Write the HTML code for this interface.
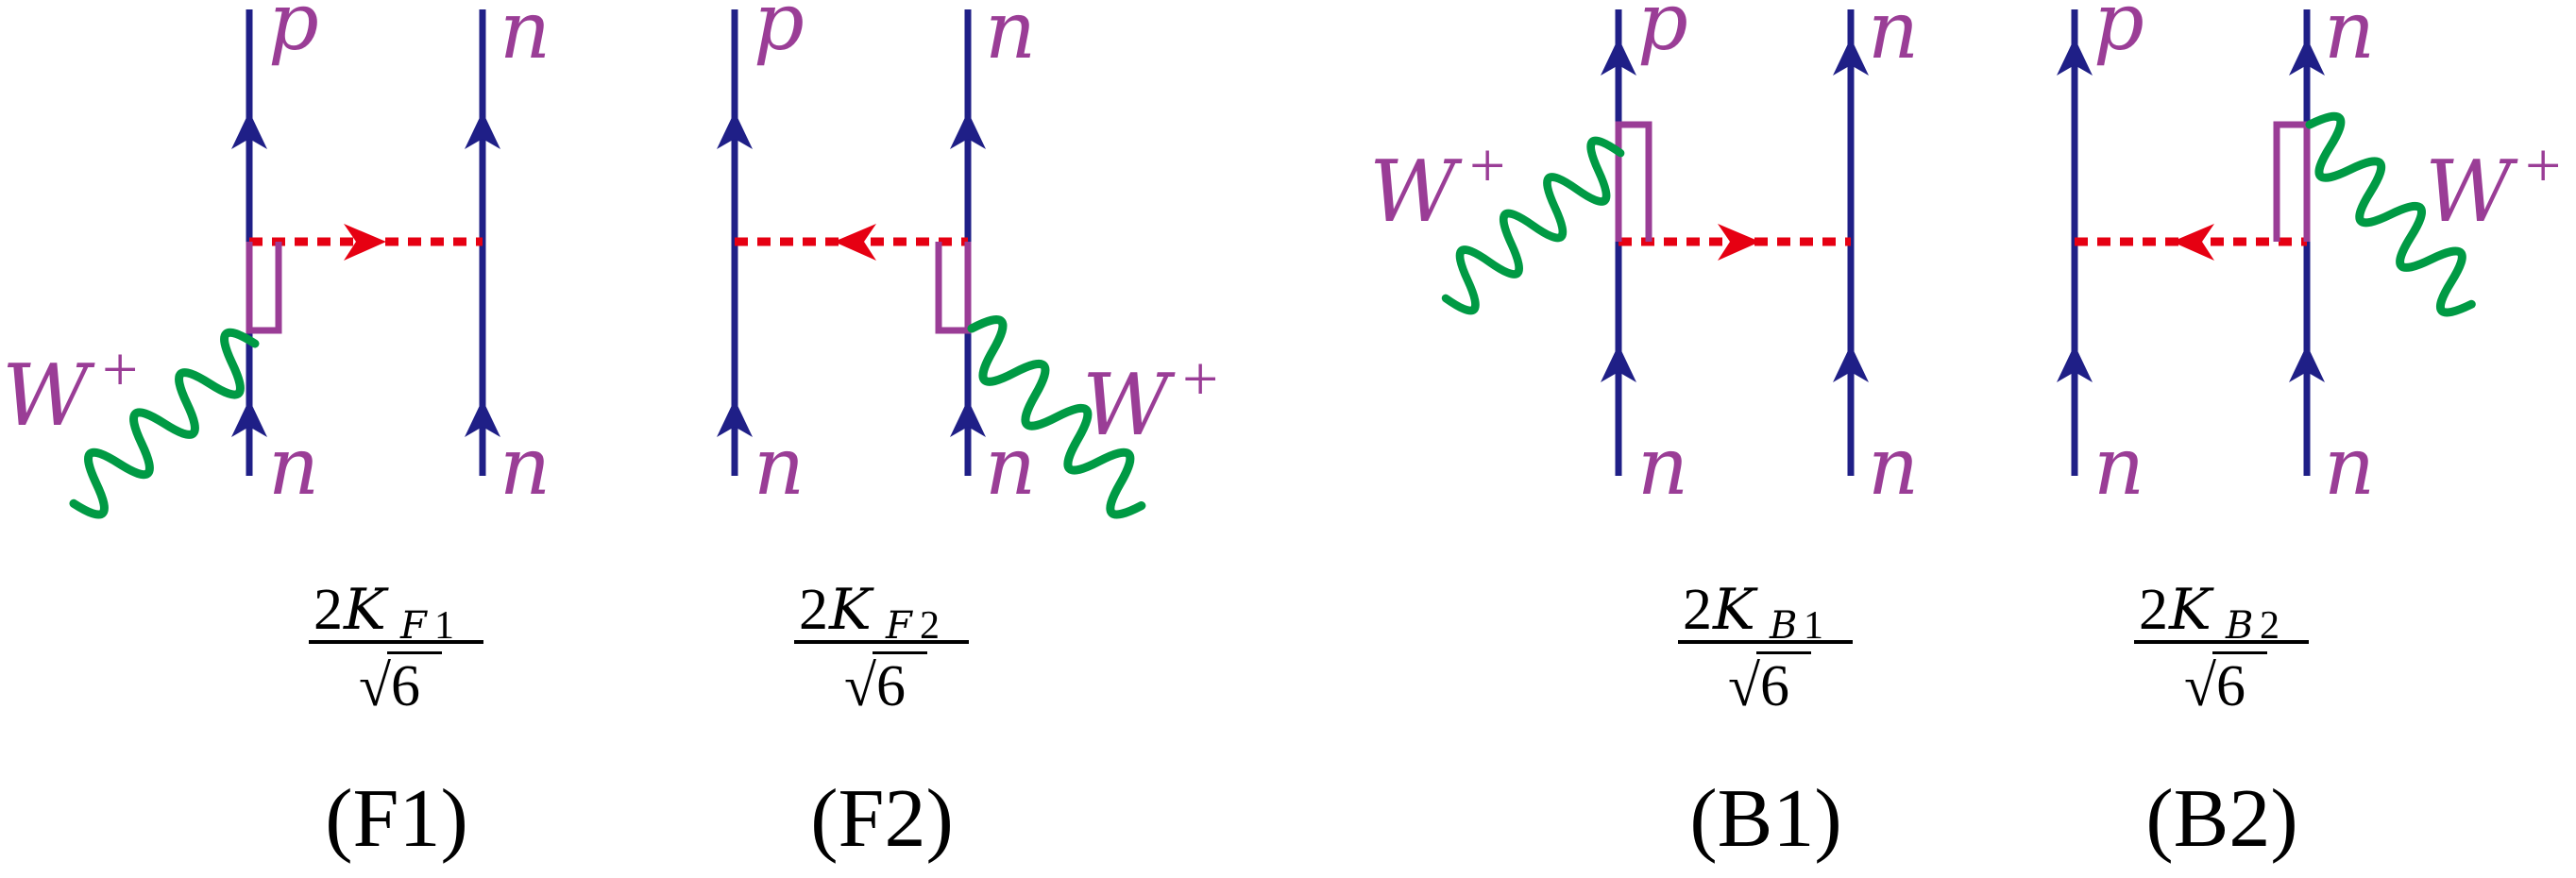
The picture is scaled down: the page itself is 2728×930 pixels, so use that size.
<!DOCTYPE html>
<html><head><meta charset="utf-8"><style>
html,body{margin:0;padding:0;background:#fff;}
svg{display:block}
.it{font-family:"DejaVu Serif","Liberation Serif",serif;font-style:italic;fill:#9a3d96}
.pl{font-family:"Liberation Serif",serif;fill:#9a3d96}
.rm{font-family:"Liberation Serif",serif;fill:#000}
.ik{font-family:"DejaVu Serif","Liberation Serif",serif;font-style:italic}
</style></head><body>
<svg width="2728" height="930" viewBox="0 0 2728 930" xmlns="http://www.w3.org/2000/svg">
<defs>
<path id="wigP" d="M0 0 q16 56 32 0 t32 0 t32 0 t32 0 t32 0 t32 0 t32 0 t32 0" fill="none" stroke="#009a44" stroke-width="9" stroke-linecap="round"/>
<path id="wigM" d="M0 0 q16 -56 32 0 t32 0 t32 0 t32 0 t32 0 t32 0 t32 0 t32 0" fill="none" stroke="#009a44" stroke-width="9" stroke-linecap="round"/>
</defs>
<g stroke="#1f1f87" stroke-width="7">
<line x1="264" y1="10" x2="264" y2="504"/><line x1="511" y1="10" x2="511" y2="504"/>
<line x1="778" y1="10" x2="778" y2="504"/><line x1="1025" y1="10" x2="1025" y2="504"/>
<line x1="1714" y1="10" x2="1714" y2="504"/><line x1="1960" y1="10" x2="1960" y2="504"/>
<line x1="2197" y1="10" x2="2197" y2="504"/><line x1="2443" y1="10" x2="2443" y2="504"/>
</g>
<g fill="#1f1f87">
<polygon points="264,118 283,158 264,147 245,158"/><polygon points="264,423 283,463 264,452 245,463"/>
<polygon points="511,118 530,158 511,147 492,158"/><polygon points="511,423 530,463 511,452 492,463"/>
<polygon points="778,118 797,158 778,147 759,158"/><polygon points="778,423 797,463 778,452 759,463"/>
<polygon points="1025,118 1044,158 1025,147 1006,158"/><polygon points="1025,423 1044,463 1025,452 1006,463"/>
<polygon points="1714,40 1733,80 1714,69 1695,80"/><polygon points="1714,365 1733,405 1714,394 1695,405"/>
<polygon points="1960,40 1979,80 1960,69 1941,80"/><polygon points="1960,365 1979,405 1960,394 1941,405"/>
<polygon points="2197,40 2216,80 2197,69 2178,80"/><polygon points="2197,365 2216,405 2197,394 2178,405"/>
<polygon points="2443,40 2462,80 2443,69 2424,80"/><polygon points="2443,365 2462,405 2443,394 2424,405"/>
</g>
<g stroke="#e60012" stroke-width="9" stroke-dasharray="14 10">
<line x1="264" y1="256" x2="511" y2="256"/><line x1="778" y1="256" x2="1025" y2="256"/>
<line x1="1714" y1="256" x2="1960" y2="256"/><line x1="2197" y1="256" x2="2443" y2="256"/>
</g>
<g fill="#e60012">
<polygon points="409,256 364,237 377,256 364,276"/>
<polygon points="883,256 928,237 915,256 928,276"/>
<polygon points="1864,256 1819,237 1832,256 1819,276"/>
<polygon points="2300,256 2345,237 2332,256 2345,276"/>
</g>
<g fill="none" stroke="#9a3d96" stroke-width="7">
<path d="M264 256 V350 H295 V256"/>
<path d="M1025 256 V350 H994 V256"/>
<path d="M1714 256 V132 H1746 V256"/>
<path d="M2443 256 V132 H2411 V256"/>
</g>
<use href="#wigP" transform="translate(270,364) rotate(138.6)"/>
<use href="#wigM" transform="translate(1029,348) rotate(46.2) scale(1.015,1)"/>
<use href="#wigP" transform="translate(1716,162) rotate(140.2) scale(0.94,1)"/>
<use href="#wigM" transform="translate(2446,132) rotate(48)"/>
<g class="it" font-size="84">
<text x="284" y="52">p</text><text x="529" y="61">n</text><text x="284" y="523">n</text><text x="529" y="523">n</text>
<text x="798" y="52">p</text><text x="1043" y="61">n</text><text x="798" y="523">n</text><text x="1043" y="523">n</text>
<text x="1734" y="52">p</text><text x="1978" y="61">n</text><text x="1734" y="523">n</text><text x="1978" y="523">n</text>
<text x="2217" y="52">p</text><text x="2461" y="61">n</text><text x="2217" y="523">n</text><text x="2461" y="523">n</text>
</g>
<g class="it" font-size="90">
<text x="2" y="450">W</text>
<text x="1146" y="460">W</text>
<text x="1450" y="234">W</text>
<text x="2568" y="234">W</text>
</g>
<g class="pl" font-size="68">
<text x="108" y="414">+</text><text x="1252" y="424">+</text><text x="1556" y="198">+</text><text x="2674" y="198">+</text>
</g>
<g class="rm">
<g>
<text x="332" y="666" font-size="62">2</text><text class="ik" x="364" y="666" font-size="60">K</text>
<text class="ik" x="424" y="676" font-size="40">F</text><text x="460" y="676" font-size="42">1</text>
<rect x="327" y="678" width="185" height="4"/>
<text x="380" y="747" font-size="62">√6</text>
<rect x="410" y="690" width="58" height="3"/>
<text x="420" y="896" font-size="88" text-anchor="middle">(F1)</text>
</g>
<g transform="translate(514,0)">
<text x="332" y="666" font-size="62">2</text><text class="ik" x="364" y="666" font-size="60">K</text>
<text class="ik" x="424" y="676" font-size="40">F</text><text x="460" y="676" font-size="42">2</text>
<rect x="327" y="678" width="185" height="4"/>
<text x="380" y="747" font-size="62">√6</text>
<rect x="410" y="690" width="58" height="3"/>
<text x="420" y="896" font-size="88" text-anchor="middle">(F2)</text>
</g>
<g transform="translate(1450,0)">
<text x="332" y="666" font-size="62">2</text><text class="ik" x="364" y="666" font-size="60">K</text>
<text class="ik" x="424" y="676" font-size="40">B</text><text x="460" y="676" font-size="42">1</text>
<rect x="327" y="678" width="185" height="4"/>
<text x="380" y="747" font-size="62">√6</text>
<rect x="410" y="690" width="58" height="3"/>
<text x="420" y="896" font-size="88" text-anchor="middle">(B1)</text>
</g>
<g transform="translate(1933,0)">
<text x="332" y="666" font-size="62">2</text><text class="ik" x="364" y="666" font-size="60">K</text>
<text class="ik" x="424" y="676" font-size="40">B</text><text x="460" y="676" font-size="42">2</text>
<rect x="327" y="678" width="185" height="4"/>
<text x="380" y="747" font-size="62">√6</text>
<rect x="410" y="690" width="58" height="3"/>
<text x="420" y="896" font-size="88" text-anchor="middle">(B2)</text>
</g>
</g>
</svg>
</body></html>
